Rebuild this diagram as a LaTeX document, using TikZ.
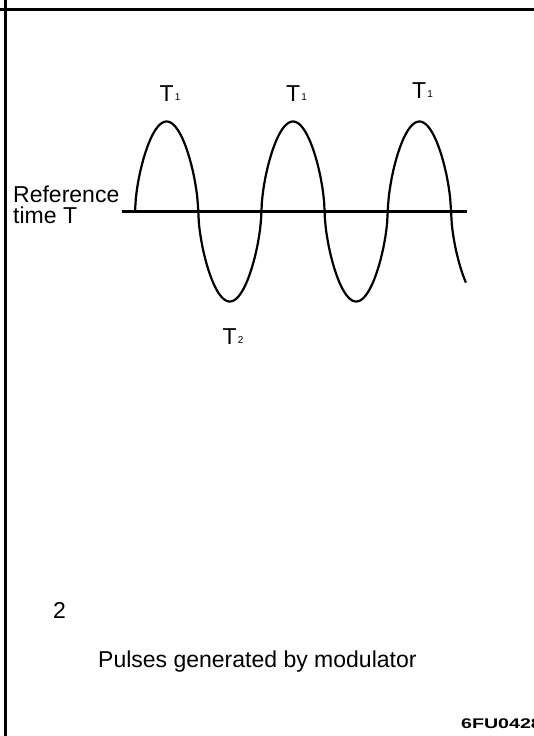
\documentclass[tikz,border=0pt]{standalone}
\usepackage{fontspec}
\setmainfont{Liberation Sans}
\newcommand\subidx[1]{\kern1pt{\fontsize{10}{10}\selectfont\raisebox{1pt}{#1}}}
\begin{document}
\begin{tikzpicture}[x=1pt,y=-1pt,
  lbl/.style={inner sep=0pt, anchor=base west, font=\fontsize{23}{27}\selectfont},
  frameline/.style={line width=3pt},
  wave/.style={line width=2.2pt, line join=round},
  axisline/.style={line width=3.2pt}]
\useasboundingbox (0,0) rectangle (534,736);
% frame
\coordinate (tl) at (0,9); \coordinate (tr) at (534,9);
\coordinate (lt) at (5,0); \coordinate (lb) at (5,736);
\draw[frameline] (tl) -- (tr);
\draw[frameline] (lt) -- (lb);
% axis and wave
\coordinate (axL) at (122,211.5); \coordinate (axR) at (467,211.5);
\draw[axisline] (axL) -- (axR);
\draw[wave] plot[domain=0:5.237, samples=400]
  ({135+63.2*\x}, {211.5-90*sin(180*\x)/pow(abs(sin(180*\x))+0.0001,0.4)});
% labels
\node[lbl] (t1a) at (159.5,101) {T\subidx{1}};
\node[lbl] (t1b) at (286,101) {T\subidx{1}};
\node[lbl] (t1c) at (412,98) {T\subidx{1}};
\node[lbl] (t2) at (222.5,344) {T\subidx{2}};
\node[lbl] (refa) at (13,202) {Reference};
\node[lbl] (refb) at (13,223) {time T};
\node[lbl] (num) at (53,618) {2};
\node[lbl] (cap) at (98,667) {Pulses generated by modulator};
\node[inner sep=0pt, anchor=base west, font=\bfseries\fontsize{14}{16}\selectfont] (code) at (461,728) {\scalebox{1.4}[1]{6FU0428}};
\end{tikzpicture}
\end{document}
